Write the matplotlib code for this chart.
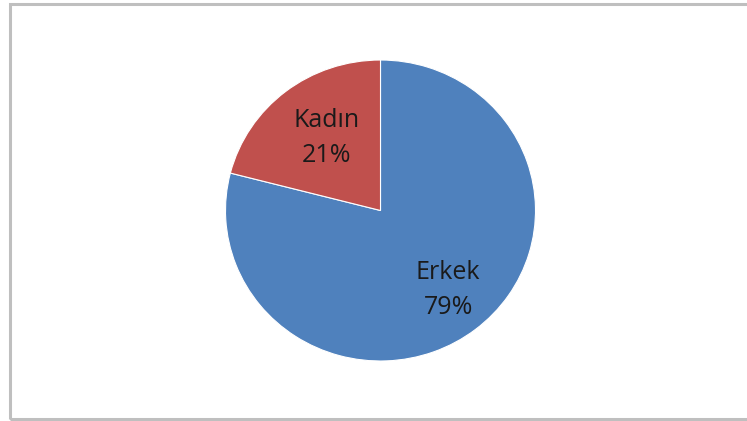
import numpy as np
import matplotlib.pyplot as plt
from matplotlib.patches import Rectangle

# data
labels = ["Erkek", "Kadın"]
values = [79, 21]
colors = ["#4F81BD", "#C0504D"]

W, H = 747, 421
fig = plt.figure(figsize=(W / 100, H / 100), dpi=100)

# chart border (right side runs off the image)
fig.patches.append(Rectangle((10 / W, 2 / H), 760 / W, 415 / H,
                             transform=fig.transFigure, fill=False,
                             edgecolor="#bfbfbf", linewidth=2.2))

# pie box in pixels (slightly squashed vertically, like the source)
cx, cy, rx, ry = 380.5, 210.5, 155, 150.5
ax = fig.add_axes([(cx - rx) / W, (H - cy - ry) / H, 2 * rx / W, 2 * ry / H])

wedges, _ = ax.pie(values, colors=colors, startangle=90, counterclock=False,
                   wedgeprops=dict(edgecolor="white", linewidth=0.8))

for w, lab, v in zip(wedges, labels, values):
    ang = np.deg2rad((w.theta1 + w.theta2) / 2)
    d = 0.64
    ax.annotate(f"{lab}\n{v}%", (d * np.cos(ang), d * np.sin(ang)),
                xytext=(5, -2.5), textcoords="offset points",
                ha="center", va="center", fontsize=18, family="Open Sans",
                color="#1a1a1a", linespacing=1.5)

ax.set_xlim(-1, 1)
ax.set_ylim(-1, 1)
ax.set_aspect("auto")
ax.axis("off")

fig.savefig("out.png", dpi=100)
